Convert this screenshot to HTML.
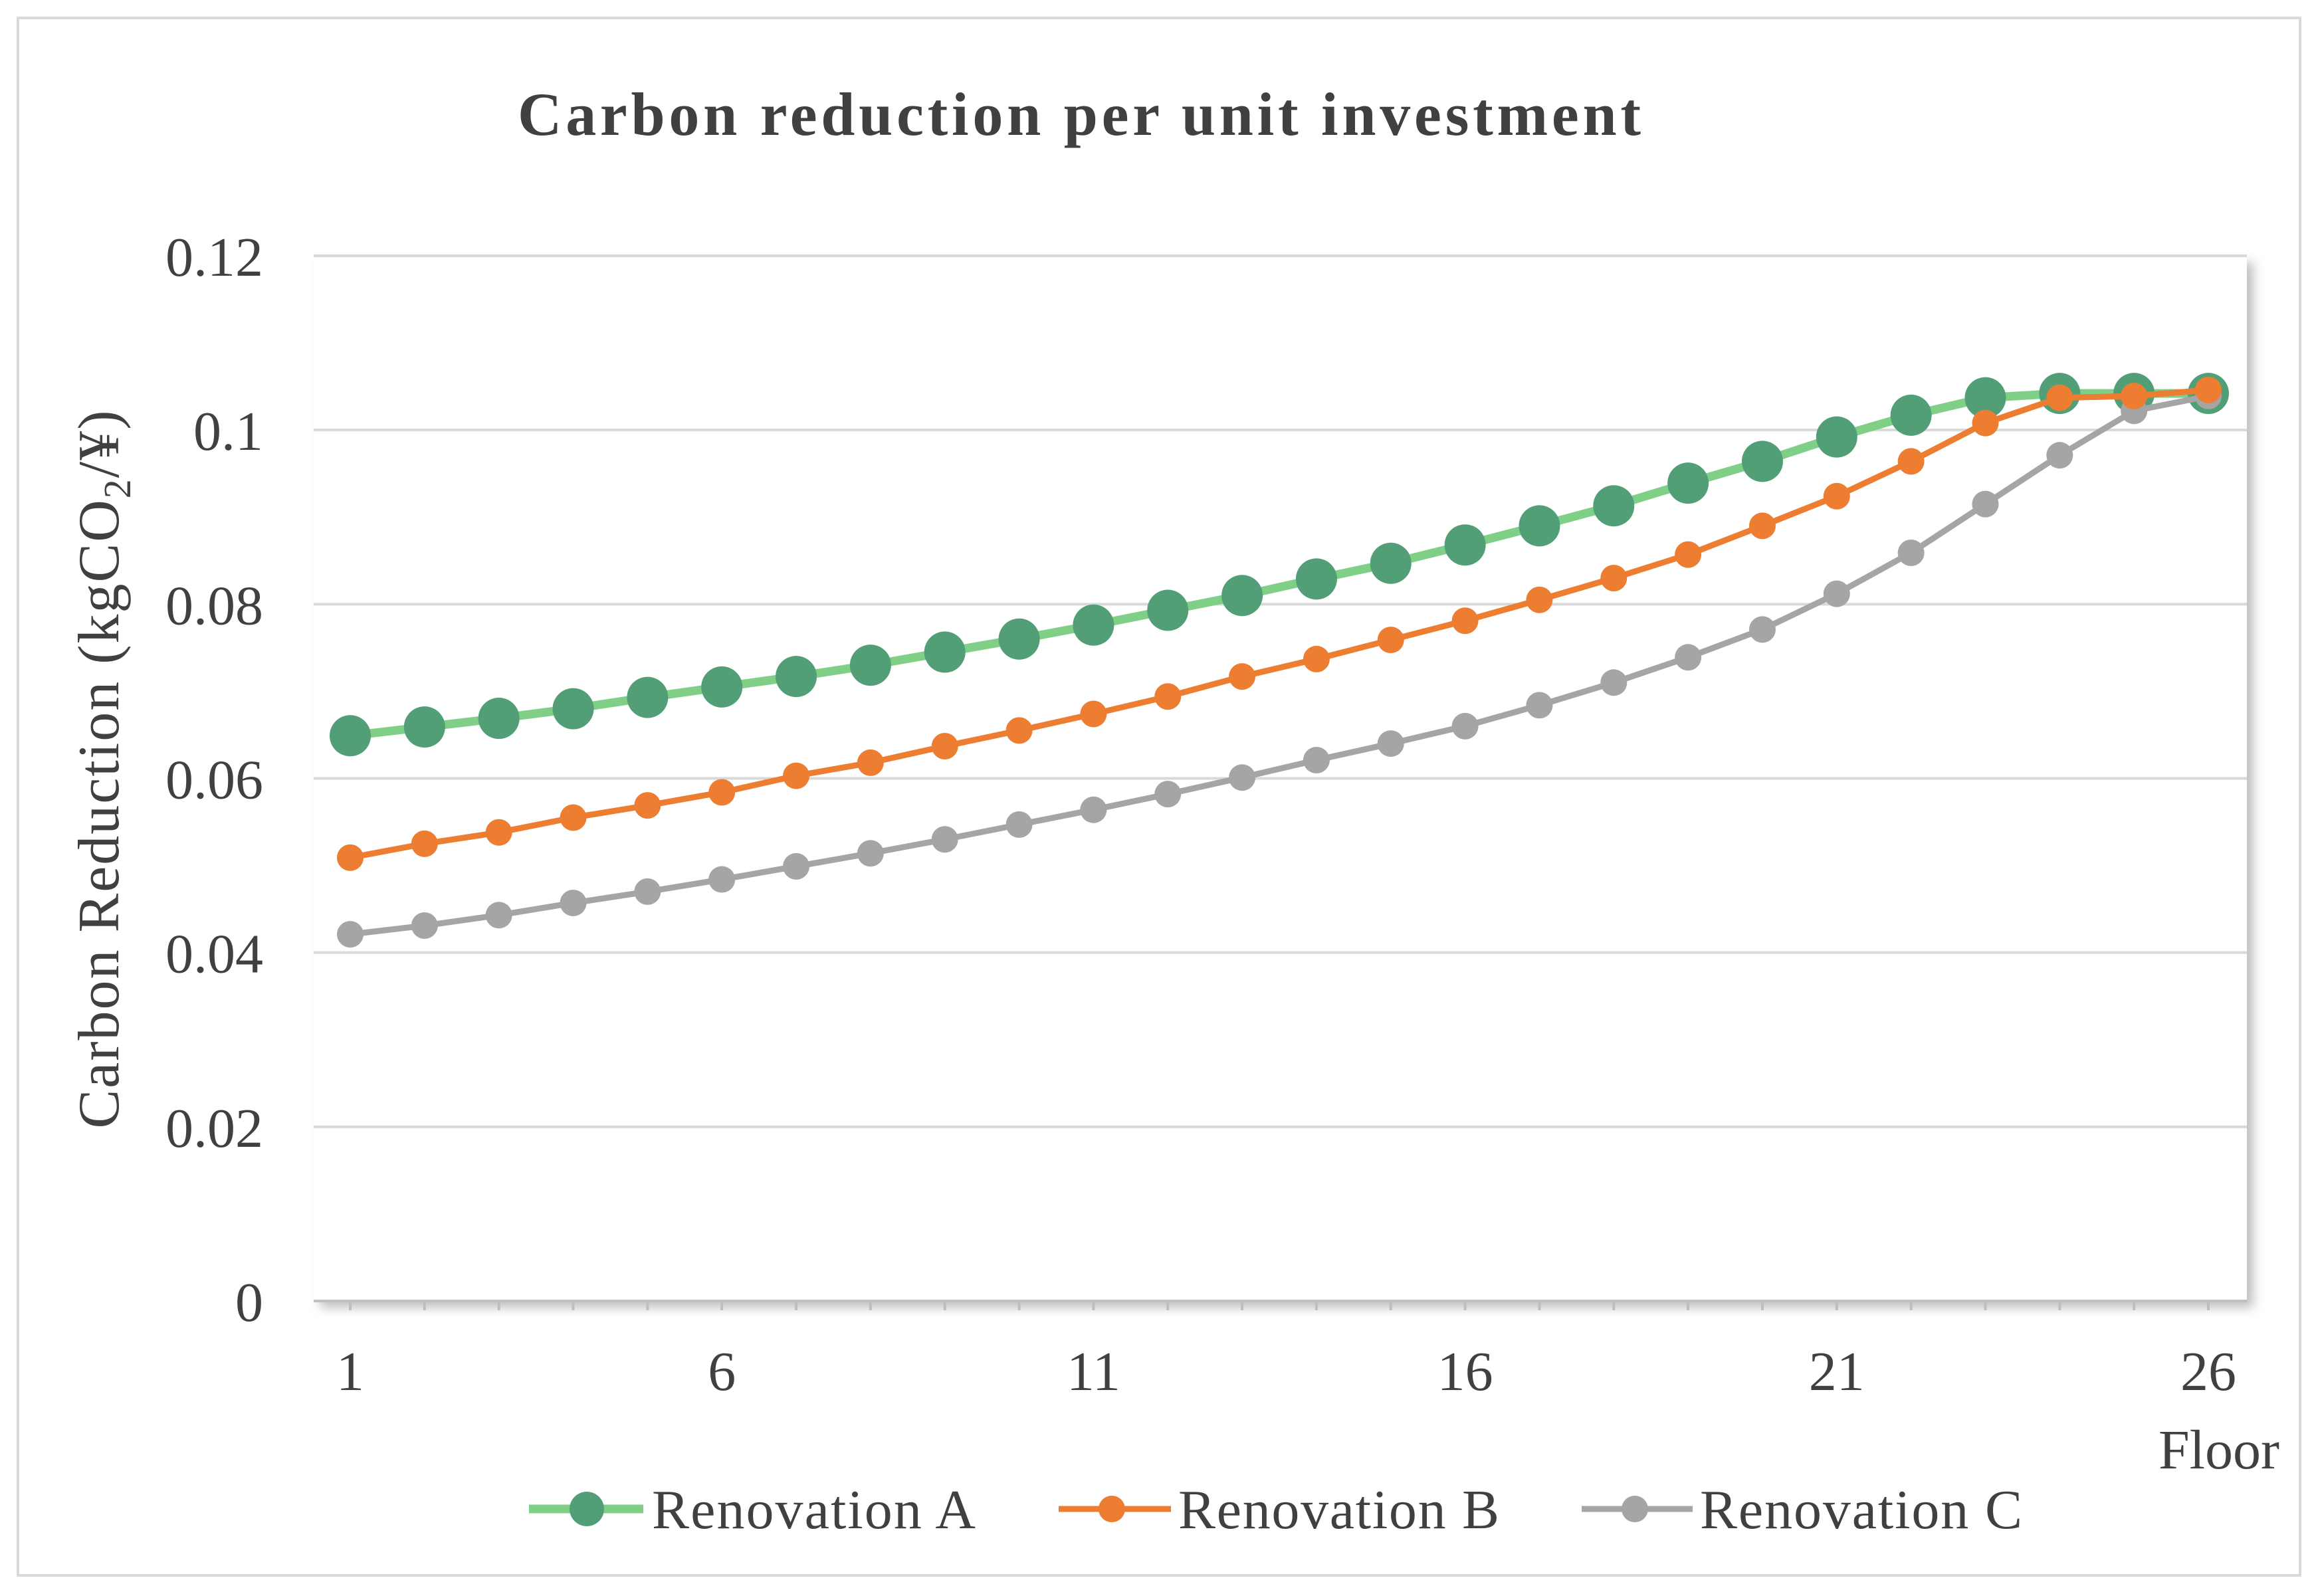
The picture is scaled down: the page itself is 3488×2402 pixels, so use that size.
<!DOCTYPE html>
<html><head><meta charset="utf-8"><style>
html,body{margin:0;padding:0;background:#fff}
svg{display:block}
text{font-family:"Liberation Serif",serif;fill:#404040}
</style></head><body>
<svg id="chart" width="3488" height="2402" viewBox="0 0 3488 2402" xmlns="http://www.w3.org/2000/svg">
<defs>
<filter id="sh" x="-5%" y="-5%" width="110%" height="110%"><feDropShadow dx="10" dy="10" stdDeviation="8" flood-color="#000" flood-opacity="0.25"/></filter>
</defs>
<rect x="27" y="27" width="3434" height="2344" fill="#fff" stroke="#d9d9d9" stroke-width="4"/>
<rect x="472" y="385" width="2909" height="1573" fill="#fff" filter="url(#sh)"/>
<text x="1624" y="203" text-anchor="middle" font-size="92" font-weight="bold" textLength="1690" lengthAdjust="spacing">Carbon reduction per unit investment</text>
<g id="grid"></g><g id="yticks"></g><g id="xticks"></g><g id="series"></g>
<text transform="translate(178,1157) rotate(-90)" text-anchor="middle" font-size="88" letter-spacing="2">Carbon Reduction (kgCO<tspan font-size="58" dy="18">2</tspan><tspan dy="-18">/¥)</tspan></text>
<text x="3430" y="2210" text-anchor="end" font-size="84">Floor</text>
<g>
<g><line x1="796" y1="2271" x2="968" y2="2271" stroke="#7fcf86" stroke-width="13"/><circle cx="883" cy="2271" r="26" fill="#529f77"/><text x="981" y="2300" font-size="84" textLength="487" lengthAdjust="spacing">Renovation A</text></g>
<g><line x1="1593" y1="2271" x2="1762" y2="2271" stroke="#ed7d31" stroke-width="9"/><circle cx="1673" cy="2271" r="20" fill="#ed7d31"/><text x="1773" y="2300" font-size="84" textLength="483" lengthAdjust="spacing">Renovation B</text></g>
<g><line x1="2380" y1="2271" x2="2547" y2="2271" stroke="#a5a5a5" stroke-width="9"/><circle cx="2460" cy="2271" r="20" fill="#a5a5a5"/><text x="2558" y="2300" font-size="84" textLength="485" lengthAdjust="spacing">Renovation C</text></g>
</g>
</svg>
<script>
const floors = [1,2,3,4,5,6,7,8,9,10,11,12,13,14,15,16,17,18,19,20,21,22,23,24,25,26];
const seriesA = [0.0649,0.0659,0.0669,0.068,0.0693,0.0705,0.0717,0.073,0.0745,0.076,0.0776,0.0793,0.081,0.0829,0.0847,0.0868,0.089,0.0913,0.0939,0.0964,0.0992,0.1017,0.1037,0.1042,0.1042,0.1042];
const seriesB = [0.0509,0.0525,0.0538,0.0555,0.0569,0.0584,0.0603,0.0618,0.0637,0.0655,0.0674,0.0694,0.0717,0.0737,0.0759,0.0781,0.0805,0.083,0.0857,0.089,0.0924,0.0964,0.1008,0.1037,0.1039,0.1046];
const seriesC = [0.0421,0.0431,0.0443,0.0457,0.047,0.0484,0.0499,0.0514,0.053,0.0547,0.0564,0.0582,0.0601,0.0621,0.064,0.066,0.0684,0.071,0.0739,0.0771,0.0812,0.0859,0.0915,0.0971,0.1022,0.1039];
const yTicks = [0,0.02,0.04,0.06,0.08,0.1,0.12];
const yTickLabels = ["0","0.02","0.04","0.06","0.08","0.1","0.12"];
const xTickLabels = ["1","6","11","16","21","26"];
const NS="http://www.w3.org/2000/svg";
const X0=472,X1=3381,Y0=1958,Y1=385,FX0=527,FX1=3323;
function xs(f){return FX0+(f-1)*(FX1-FX0)/25;}
function ys(v){return Y0-(v/0.12)*(Y0-Y1);}
function mk(t,a,p){const e=document.createElementNS(NS,t);for(const k in a)e.setAttribute(k,a[k]);p.appendChild(e);return e;}
const grid=document.getElementById('grid'),yt=document.getElementById('yticks'),xt=document.getElementById('xticks'),sg=document.getElementById('series');
yTicks.forEach((v,i)=>{
  const l=mk('line',{x1:X0,x2:X1,y1:ys(v),y2:ys(v),stroke:v===0?'#bfbfbf':'#d9d9d9','stroke-width':4},grid);
  
  
  const t=mk('text',{x:396,y:ys(v)+30,'text-anchor':'end','font-size':84},yt);
  t.textContent=yTickLabels[i];
  
  
});
floors.forEach(f=>{
  const l=mk('line',{x1:xs(f),x2:xs(f),y1:Y0,y2:Y0+14,stroke:'#bfbfbf','stroke-width':4},xt);
  
  
});
xTickLabels.forEach(s=>{
  const t=mk('text',{x:xs(+s),y:2092,'text-anchor':'middle','font-size':84},xt);
  t.textContent=s;
  
  
});
function draw(vals,lc,mc,lw,r,name){
  const g=mk('g',{},sg);
  
  
  const pl=mk('polyline',{points:vals.map((v,i)=>xs(floors[i])+','+ys(v)).join(' '),fill:'none',stroke:lc,'stroke-width':lw,'stroke-linejoin':'round'},g);
  
  
  vals.forEach((v,i)=>{
    const c=mk('circle',{cx:xs(floors[i]),cy:ys(v),r:r,fill:mc},g);
    
    
  });
}
draw(seriesA,'#7fcf86','#529f77',13,31,'series-a');
draw(seriesC,'#a5a5a5','#a5a5a5',9,20,'series-c');
draw(seriesB,'#ed7d31','#ed7d31',9,20,'series-b');
</script>
</body></html>
